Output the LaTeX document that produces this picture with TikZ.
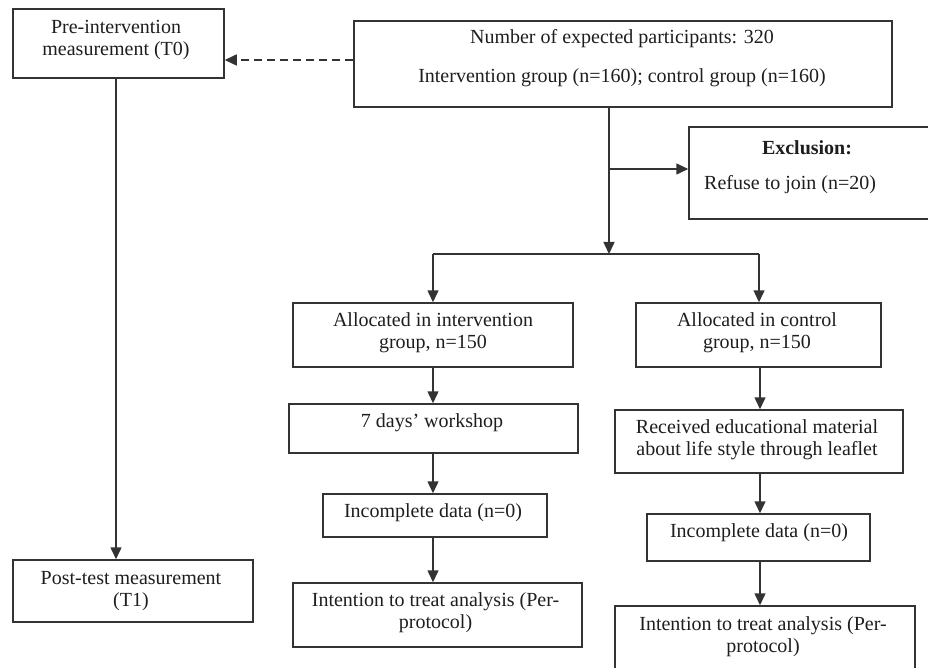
\documentclass[tikz,border=0pt]{standalone}
\usepackage{fontspec}
\setmainfont{Liberation Serif}
\usetikzlibrary{arrows.meta}
\definecolor{ln}{HTML}{333333}
\definecolor{tx}{HTML}{1E1E1E}
\tikzset{
  box/.style={draw=ln, line width=1.5pt, rectangle, inner sep=0pt, anchor=center},
  txt/.style={text=tx, inner sep=0pt, align=center, anchor=center, font=\fontsize{20}{22}\selectfont},
  arr/.style={draw=ln, line width=1.5pt, -{Triangle[length=12pt,width=11pt]}},
  lnk/.style={draw=ln, line width=1.5pt},
  dsh/.style={draw=ln, line width=1.5pt, dash pattern=on 8pt off 5pt, -{Triangle[length=12pt,width=11pt]}}
}
\begin{document}
\begin{tikzpicture}[x=1pt,y=-1pt]
\useasboundingbox[fill=white] (0,0) rectangle (928,668);
% boxes
\node[box, minimum width=211pt, minimum height=69pt] (A) at (118.5,43.5) {};
\node[box, minimum width=538pt, minimum height=86pt] (B) at (623,64) {};
\node[box, minimum width=251pt, minimum height=92pt] (E) at (814.5,173) {};
\node[box, minimum width=280pt, minimum height=64pt] (AI) at (433,335) {};
\node[box, minimum width=245pt, minimum height=64pt] (AC) at (758.5,335) {};
\node[box, minimum width=289pt, minimum height=49pt] (W) at (433.5,428.5) {};
\node[box, minimum width=288pt, minimum height=63pt] (R) at (759,441.5) {};
\node[box, minimum width=224pt, minimum height=43pt] (IL) at (435,515.5) {};
\node[box, minimum width=223pt, minimum height=47pt] (IR) at (758.5,537.5) {};
\node[box, minimum width=289pt, minimum height=64pt] (TL) at (437.5,615) {};
\node[box, minimum width=300pt, minimum height=70pt] (TR) at (765,641) {};
\node[box, minimum width=240pt, minimum height=62pt] (P) at (133,591) {};
% texts
\node[txt] (At) at (116,40) {Pre-intervention\\measurement (T0)};
\node[txt] (Bt1) at (622,39) {Number of expected participants: 320};
\node[txt] (Bt2) at (622,78) {Intervention group (n=160); control group (n=160)};
\node[txt, font=\fontsize{20}{22}\selectfont\bfseries] (Et1) at (807,148) {Exclusion:};
\node[txt, anchor=west] (Et2) at (704,185) {Refuse to join (n=20)};
\node[txt] (AIt) at (433,332.5) {Allocated in intervention\\group, n=150};
\node[txt] (ACt) at (757,332.5) {Allocated in control\\group, n=150};
\node[txt] (Wt) at (432,423) {7 days’ workshop};
\node[txt] (Rt) at (757,440) {Received educational material\\about life style through leaflet};
\node[txt] (ILt) at (433,513) {Incomplete data (n=0)};
\node[txt] (IRt) at (759,533) {Incomplete data (n=0)};
\node[txt] (TLt) at (435.5,612.5) {Intention to treat analysis (Per-\\protocol)};
\node[txt] (TRt) at (763,636.5) {Intention to treat analysis (Per-\\protocol)};
\node[txt] (Pt) at (131,591) {Post-test measurement\\(T1)};
% columns and junctions
\coordinate (cA) at (116,0);
\coordinate (cM) at (609,0);
\coordinate (cL) at (433,0);
\coordinate (cR) at (760,0);
\coordinate (jE) at (609,169);
\coordinate (jH) at (609,254);
\coordinate (hL) at (433,254);
\coordinate (hR) at (759,254);
% connectors
\draw[dsh] (B.west |- 0,60) -- (A.east |- 0,60);
\draw[arr] (A.south -| cA) -- (P.north -| cA);
\draw[arr] (B.south -| cM) -- (jH);
\draw[arr] (jE) -- (E.west |- jE);
\draw[lnk] (hL) -- (hR);
\draw[arr] (hL) -- (AI.north -| hL);
\draw[arr] (hR) -- (AC.north -| hR);
\draw[arr] (AI.south -| cL) -- (W.north -| cL);
\draw[arr] (W.south -| cL) -- (IL.north -| cL);
\draw[arr] (IL.south -| cL) -- (TL.north -| cL);
\draw[arr] (AC.south -| cR) -- (R.north -| cR);
\draw[arr] (R.south -| cR) -- (IR.north -| cR);
\draw[arr] (IR.south -| cR) -- (TR.north -| cR);
\end{tikzpicture}
\end{document}
